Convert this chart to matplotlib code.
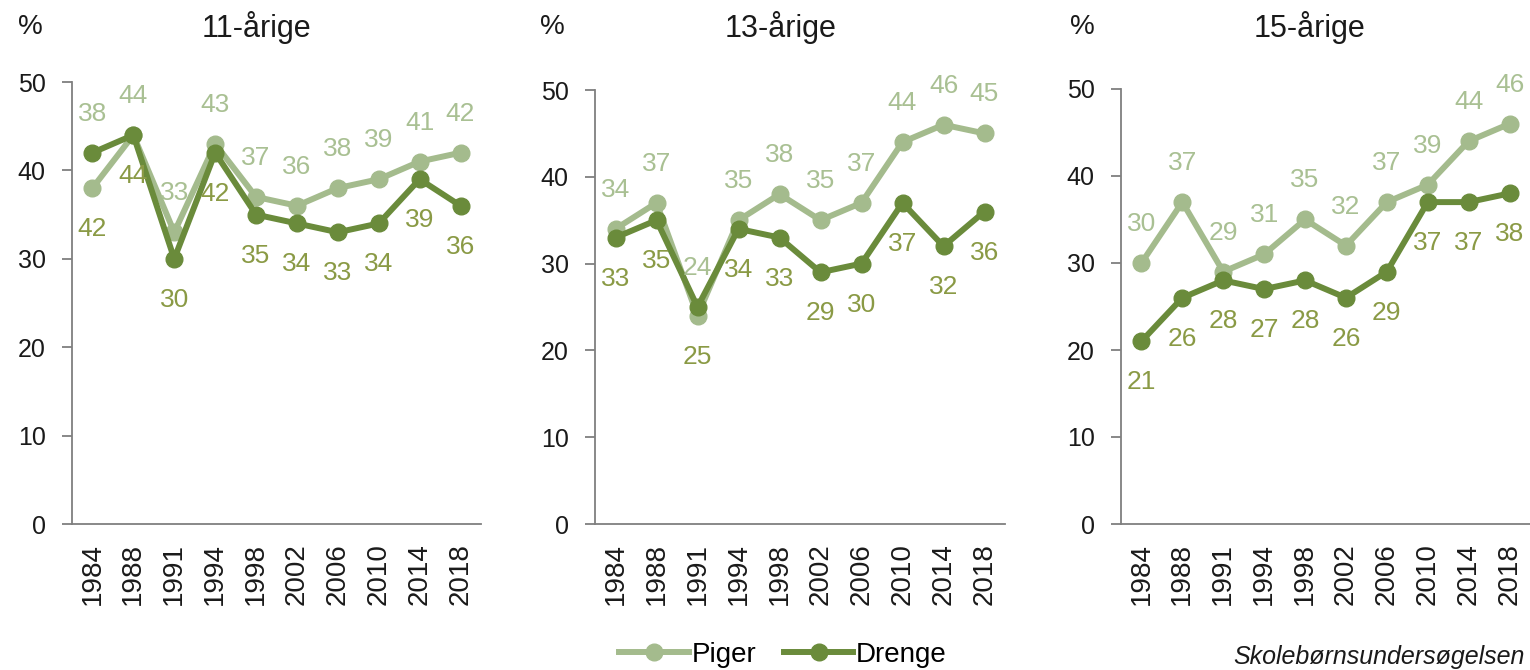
import matplotlib
matplotlib.use("Agg")
import matplotlib.pyplot as plt
from matplotlib.lines import Line2D

plt.rcParams['font.family'] = ['Liberation Sans', 'DejaVu Sans']

years = ["1984", "1988", "1991", "1994", "1998", "2002", "2006", "2010", "2014", "2018"]
titles = ["11-årige", "13-årige", "15-årige"]

piger_11 = [38, 44, 33, 43, 37, 36, 38, 39, 41, 42]
drenge_11 = [42, 44, 30, 42, 35, 34, 33, 34, 39, 36]
piger_13 = [34, 37, 24, 35, 38, 35, 37, 44, 46, 45]
drenge_13 = [33, 35, 25, 34, 33, 29, 30, 37, 32, 36]
piger_15 = [30, 37, 29, 31, 35, 32, 37, 39, 44, 46]
drenge_15 = [21, 26, 28, 27, 28, 26, 29, 37, 37, 38]

piger_all = [piger_11, piger_13, piger_15]
drenge_all = [drenge_11, drenge_13, drenge_15]

c_piger = "#A4BB8D"
c_drenge = "#6A8B3B"
c_piger_lbl = "#A9C093"
c_drenge_lbl = "#8A9A45"
c_axis = "#7F7F7F"
c_text = "#1A1A1A"

W, H = 1530, 670
fig = plt.figure(figsize=(W / 100, H / 100), dpi=100)

# axes boxes in pixels: left, right, top(50), bottom(0)
boxes = [(72, 481, 82, 524), (595, 1005, 90, 524), (1121, 1530, 89, 524)]
title_x = [256, 781, 1309]
pct_x = [30, 552, 1082]

for k, (l, r, t, b) in enumerate(boxes):
    ax = fig.add_axes([l / W, (H - b) / H, (r - l) / W, (b - t) / H])
    x = list(range(len(years)))
    p = piger_all[k]
    d = drenge_all[k]
    ax.plot(x, p, color=c_piger, lw=4.3, marker='o', ms=12, zorder=2,
            solid_capstyle='round', solid_joinstyle='round')
    ax.plot(x, d, color=c_drenge, lw=4.3, marker='o', ms=12, zorder=3,
            solid_capstyle='round', solid_joinstyle='round')
    for i in x:
        top = max(p[i], d[i])
        bot = min(p[i], d[i])
        ax.annotate(str(p[i]), (i, top), xytext=(0, 39), textcoords='offset pixels',
                    ha='center', va='center', fontsize=19, color=c_piger_lbl, zorder=4)
        ax.annotate(str(d[i]), (i, bot), xytext=(0, -41), textcoords='offset pixels',
                    ha='center', va='center', fontsize=19, color=c_drenge_lbl, zorder=4)
    ax.set_xlim(-0.5, len(years) - 0.5)
    ax.set_ylim(0, 50)
    ax.set_yticks([0, 10, 20, 30, 40, 50])
    ax.set_xticks(x)
    ax.set_xticklabels(years, rotation=90)
    for s in ['top', 'right']:
        ax.spines[s].set_visible(False)
    for s in ['left', 'bottom']:
        ax.spines[s].set_color(c_axis)
        ax.spines[s].set_linewidth(1.3)
    ax.tick_params(axis='y', length=7, width=1.3, color=c_axis, pad=12,
                   labelsize=18, labelcolor=c_text)
    ax.tick_params(axis='x', length=0, pad=14, labelsize=20, labelcolor=c_text)
    ax.patch.set_alpha(0)
    fig.text(title_x[k] / W, 1 - 28 / H, titles[k], ha='center', va='center',
             fontsize=22, color=c_text)
    fig.text(pct_x[k] / W, 1 - 27 / H, "%", ha='center', va='center',
             fontsize=20, color=c_text)

handles = [
    Line2D([], [], color=c_piger, lw=4.3, marker='o', ms=12),
    Line2D([], [], color=c_drenge, lw=4.3, marker='o', ms=12),
]
fig.legend(handles, ["Piger", "Drenge"], loc='center', bbox_to_anchor=(783 / W, 1 - 655 / H),
           ncol=2, frameon=False, fontsize=20, handlelength=2.5, handletextpad=0.1,
           columnspacing=1.0, markerscale=1.0, borderpad=0.1)
fig.text(1525 / W, 1 - 657 / H, "Skolebørnsundersøgelsen", ha='right', va='center',
         fontsize=18, style='italic', color=c_text)

fig.savefig("out.png", dpi=100)
